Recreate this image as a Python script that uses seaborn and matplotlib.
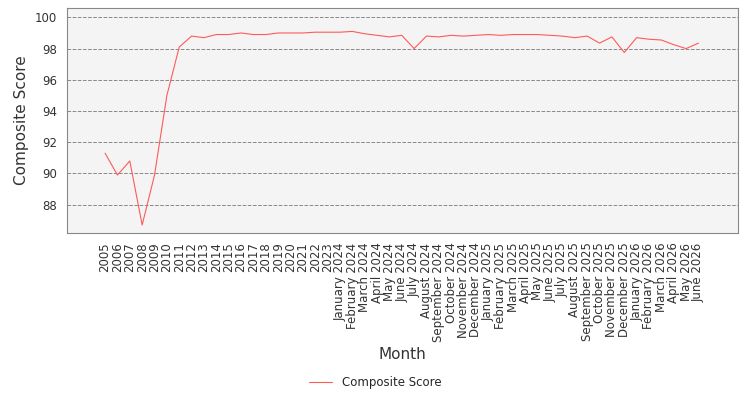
import matplotlib
matplotlib.use('Agg')
import matplotlib.pyplot as plt
import seaborn as sns
import pandas as pd

months = [str(y) for y in range(2005, 2024)] + \
    [f'{m} 2024' for m in ['January', 'February', 'March', 'April', 'May', 'June', 'July',
                           'August', 'September', 'October', 'November', 'December']] + \
    [f'{m} 2025' for m in ['January', 'February', 'March', 'April', 'May', 'June', 'July',
                           'August', 'September', 'October', 'November', 'December']] + \
    [f'{m} 2026' for m in ['January', 'February', 'March', 'April', 'May', 'June']]

scores = [91.3, 89.9, 90.8, 86.7, 89.9, 95.0, 98.1, 98.8, 98.7, 98.9, 98.9, 99.0, 98.9,
          98.9, 99.0, 99.0, 99.0, 99.05, 99.05,
          99.05, 99.1, 98.95, 98.85, 98.75, 98.85, 98.0, 98.8, 98.75, 98.85, 98.8, 98.85,
          98.9, 98.85, 98.9, 98.9, 98.9, 98.85, 98.8, 98.7, 98.8, 98.35, 98.75, 97.75,
          98.7, 98.6, 98.55, 98.25, 98.0, 98.35]

df = pd.DataFrame({'Month': months, 'Composite Score': scores})
df['pos'] = range(len(df))

sns.set_style('white')
plt.rcParams['font.family'] = ['DejaVu Sans']

fig = plt.figure(figsize=(7.5, 4), dpi=100)
ax = fig.add_axes([0.089, 0.418, 0.895, 0.562])
ax.set_facecolor('#f4f4f4')
sns.lineplot(data=df, x='pos', y='Composite Score', ax=ax, color='#ff5a5a',
             linewidth=0.8, label='Composite Score', legend=False)
ax.set_xlim(-3.1, len(df) + 2.2)
ax.set_ylim(86.2, 100.6)
ax.set_yticks([88, 90, 92, 94, 96, 98, 100])
ax.set_xticks(df['pos'])
ax.set_xticklabels(df['Month'], rotation=90, fontsize=8.5, color='#333333')
ax.tick_params(axis='y', labelsize=8.5, colors='#333333')
ax.grid(axis='y', linestyle='--', color='#888888', linewidth=0.7)
for s in ax.spines.values():
    s.set_color('#888888')
    s.set_linewidth(0.8)
ax.set_xlabel('Month', fontsize=11, color='#333333', fontweight='medium')
ax.set_ylabel('Composite Score', fontsize=11, color='#333333', fontweight='medium')
fig.legend(loc='lower center', bbox_to_anchor=(0.5, 0.0), frameon=False, fontsize=8.5)
fig.savefig('out.png', dpi=100)
